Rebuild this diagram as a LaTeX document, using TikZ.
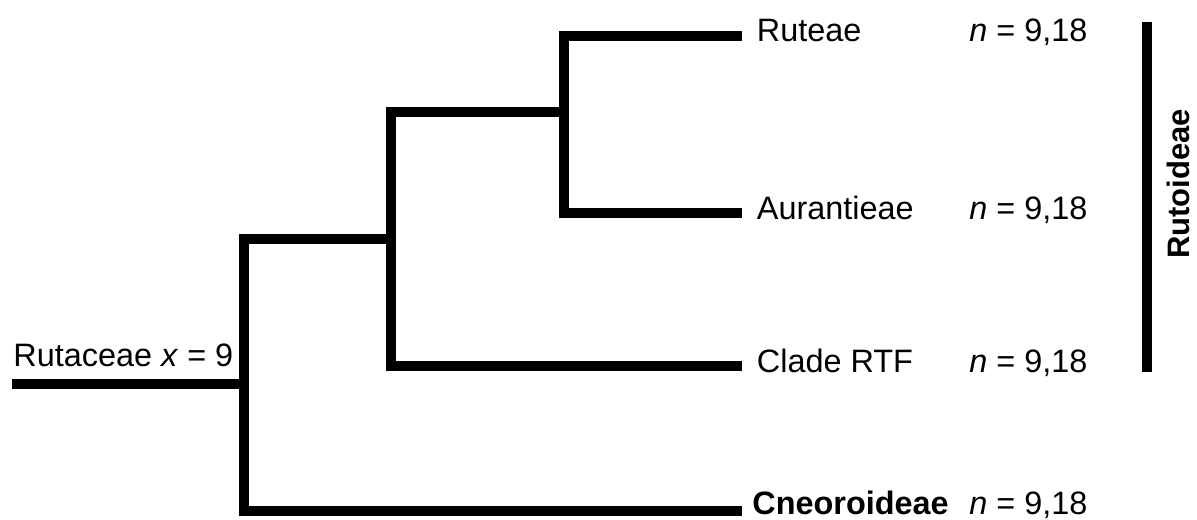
\documentclass[tikz,border=0pt]{standalone}
\usepackage{fontspec}
\setmainfont{Liberation Sans}
\begin{document}
\begin{tikzpicture}[x=0.5pt,y=-0.5pt,
  branch/.style={line width=5pt, line join=miter, line cap=butt},
  lbl/.style={anchor=base west, inner sep=0pt, font=\fontsize{16.2}{19}\selectfont},
]
\useasboundingbox (0,0) rectangle (1197,519);
% tree nodes
\coordinate (root) at (12,384);
\coordinate (n1) at (244.3,384);
\coordinate (n1top) at (244.3,239);
\coordinate (n1bot) at (244.3,510.7);
\coordinate (n2) at (391.3,239);
\coordinate (n2top) at (391.3,112);
\coordinate (n2bot) at (391.3,366);
\coordinate (n3) at (564.3,112);
\coordinate (n3top) at (564.3,36);
\coordinate (n3bot) at (564.3,213);
% leaf ends
\coordinate (lRuteae) at (741.7,36);
\coordinate (lAur) at (741.7,213);
\coordinate (lRTF) at (741.7,366);
\coordinate (lCneo) at (741.7,510.7);
% bar
\coordinate (bartop) at (1147.3,22.3);
\coordinate (barbot) at (1147.3,371.7);

\draw[branch] (root) -- (n1);
\draw[branch] (n2) -- (n1top) -- (n1bot) -- (lCneo);
\draw[branch] (n3) -- (n2top) -- (n2bot) -- (lRTF);
\draw[branch] (lRuteae) -- (n3top) -- (n3bot) -- (lAur);
\draw[branch] (bartop) -- (barbot);

\node[lbl] (troot) at (13,366.7) {Rutaceae \textit{x} = 9};
\node[lbl] (truteae) at (756.5,42) {Ruteae};
\node[lbl] (taur) at (756.5,219) {Aurantieae};
\node[lbl] (trtf) at (756.5,372) {Clade RTF};
\node[lbl] (tcneo) at (752,514) {\bfseries Cneoroideae};
\node[lbl] (nruteae) at (969,42) {\textit{n} = 9,18};
\node[lbl] (naur) at (969,219) {\textit{n} = 9,18};
\node[lbl] (nrtf) at (969,372) {\textit{n} = 9,18};
\node[lbl] (ncneo) at (969,514) {\textit{n} = 9,18};
\node[rotate=90, anchor=base, inner sep=0pt, font=\fontsize{15.5}{18}\selectfont\bfseries] (trut) at (1189,184) {Rutoideae};
\end{tikzpicture}
\end{document}
